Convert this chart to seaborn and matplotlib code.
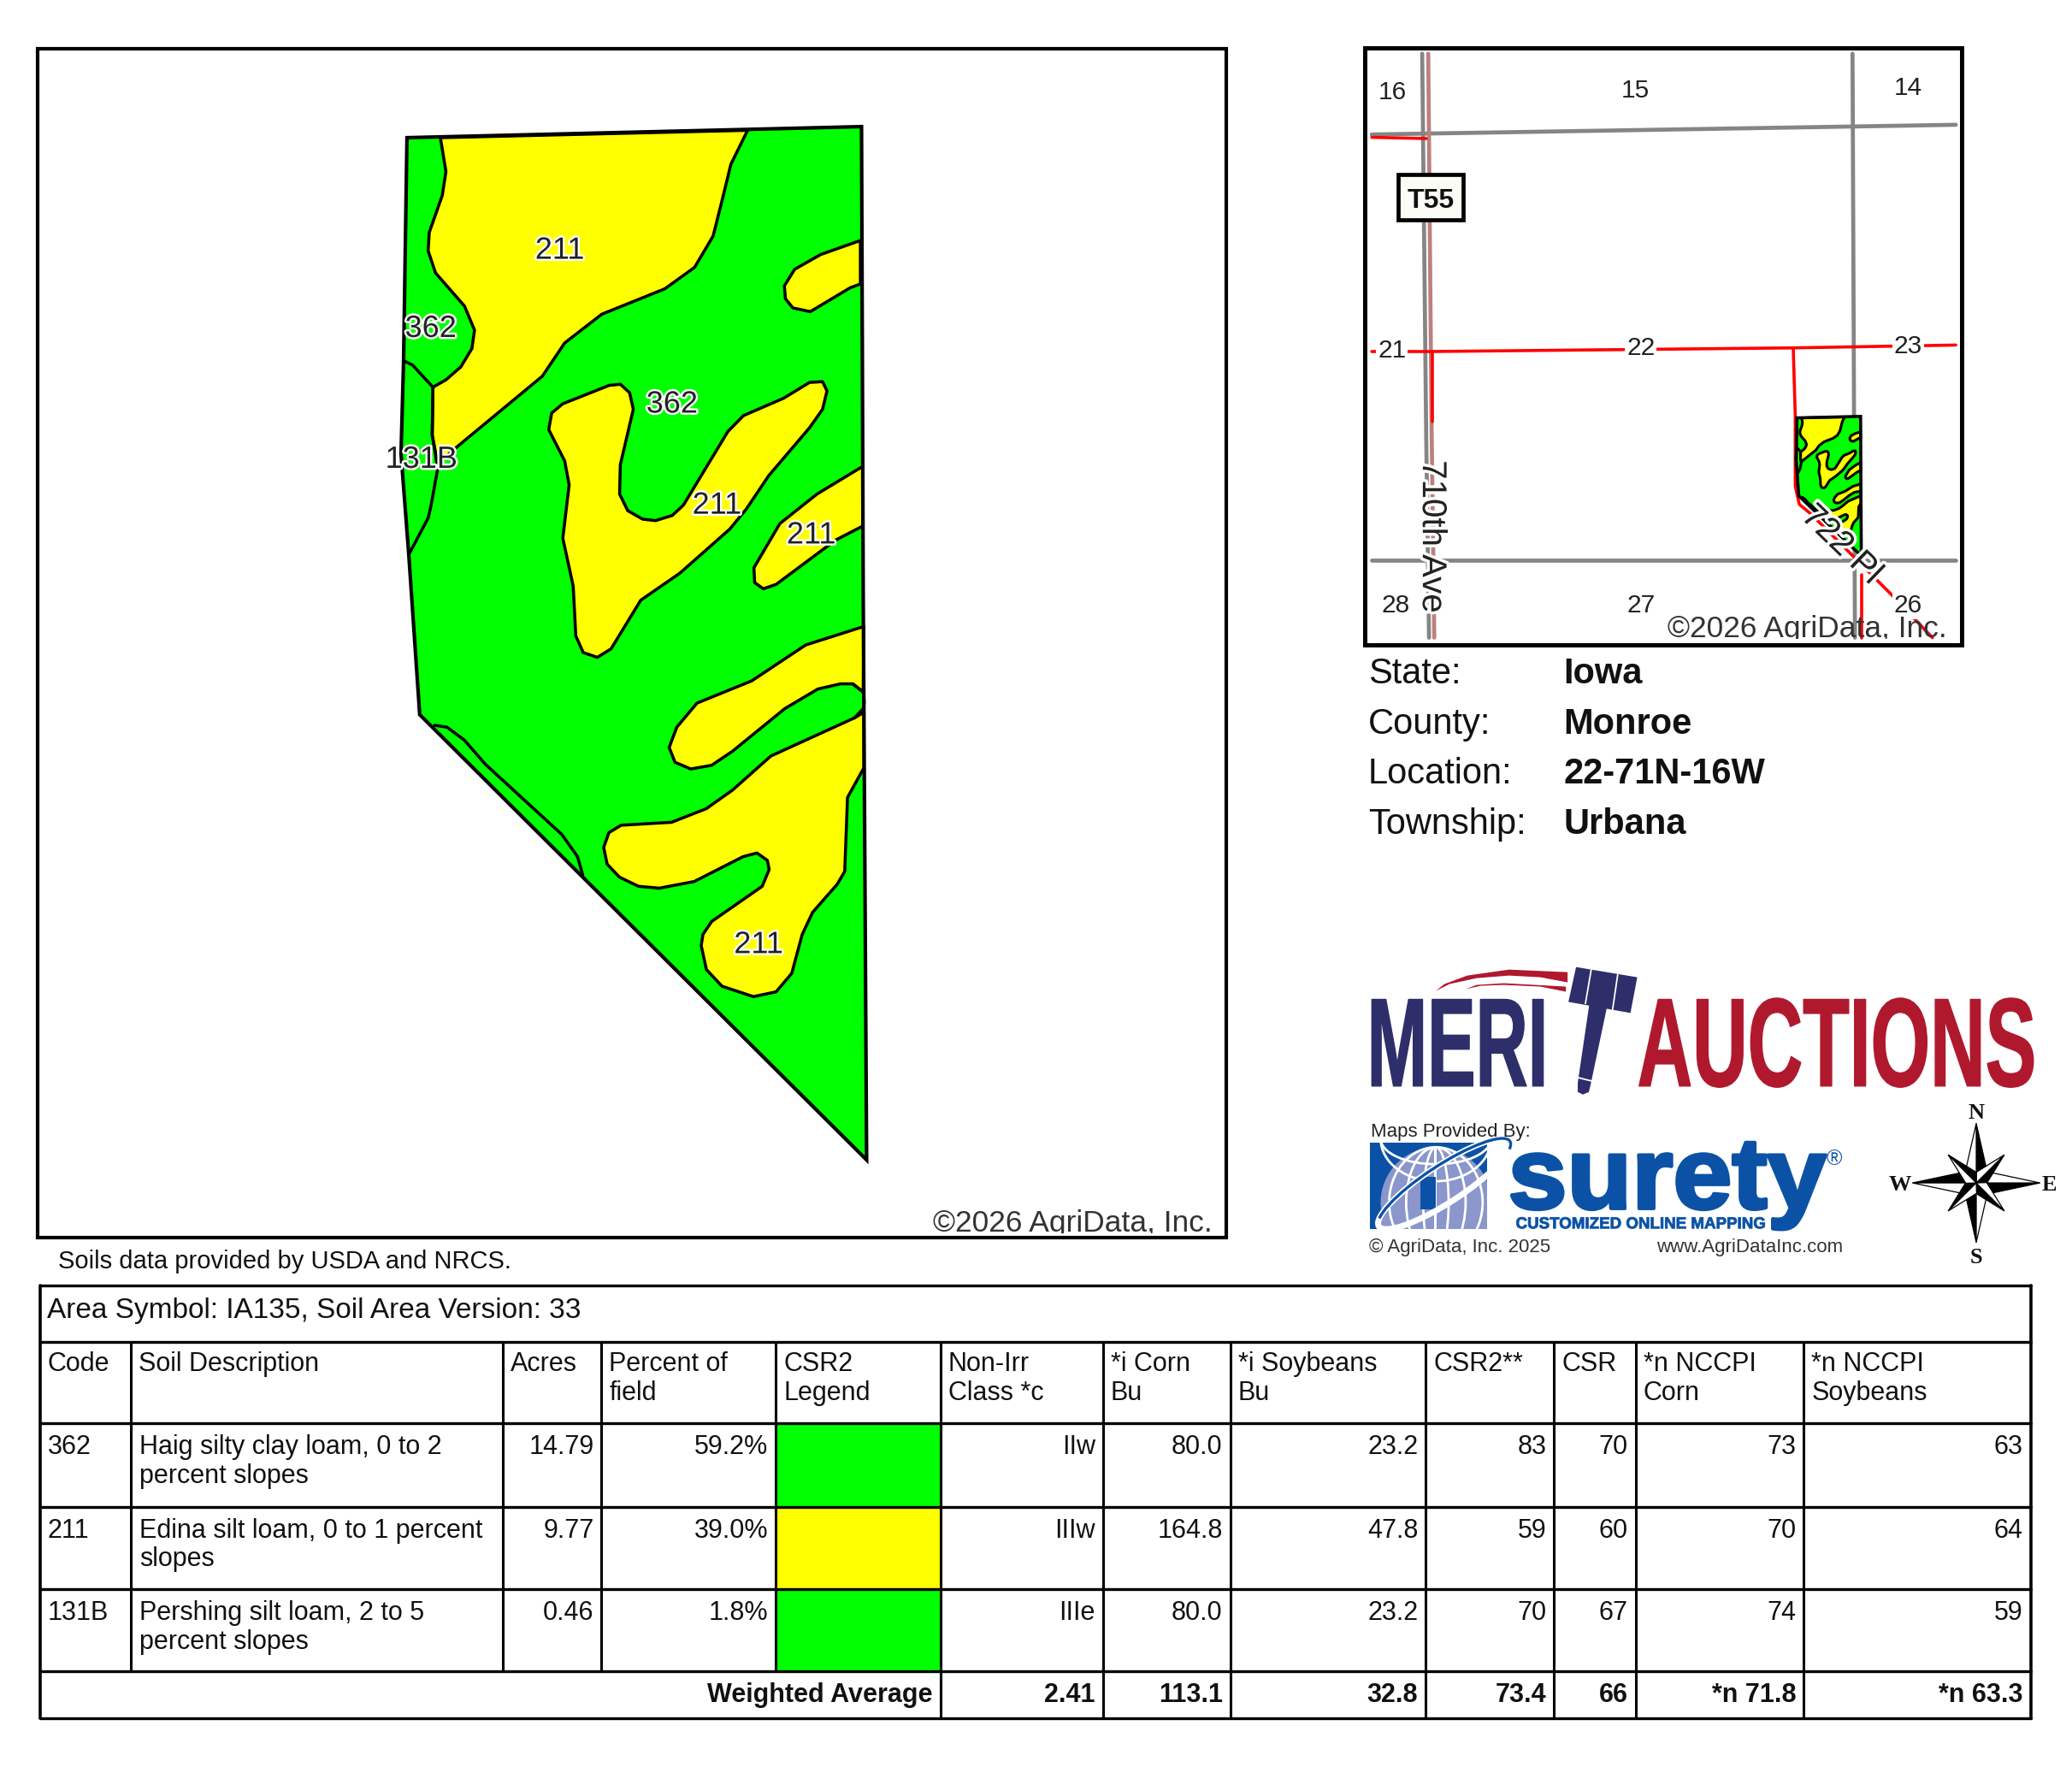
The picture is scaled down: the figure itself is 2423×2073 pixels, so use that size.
import matplotlib
matplotlib.use('Agg')
import matplotlib.pyplot as plt
import matplotlib.patheffects as pe
from matplotlib.patches import Rectangle, Polygon, Ellipse, Arc
from matplotlib.transforms import Affine2D
import seaborn as sns

sns.set_theme(style='white')
plt.rcParams['font.family'] = ['Liberation Sans', 'DejaVu Sans']

GREEN = '#00FF00'
YELLOW = '#FFFF00'
NAVY = '#2E2E6B'
CRIMSON = '#B0182D'
BLUE = '#0B52A6'
LILAC = '#8A96CC'

# soil map outlines in page units
field_x = [479, 1014, 1016, 1020, 494, 481, 472, 475]
field_y = [162, 149, 700, 1365, 841, 651, 534, 425]

# upper part of the map (crop 1 coordinates)
big_yellow = [(265,143),(1093,123),(1048,215),(1025,310),(1000,410),(950,495),(870,553),(700,622),(600,700),
              (540,790),(300,990),(258,1030),(243,950),(245,820),(280,800),(320,765),(350,715),(357,665),
              (330,600),(252,510),(232,450),(235,400),(270,300),(280,235)]
notch_yellow = [(1397,422),(1290,460),(1220,500),(1192,545),(1195,580),(1215,605),(1262,615),(1370,550),(1397,540)]
vee_yellow = [(595,865),(720,815),(750,812),(775,835),(785,880),(750,1030),(748,1110),(770,1155),(810,1178),
              (845,1182),(890,1168),(920,1140),(1040,940),(1082,897),(1190,850),(1260,807),(1295,805),(1307,830),
              (1295,880),(1260,930),(1150,1060),(1090,1150),(1045,1205),(910,1325),(805,1398),(725,1530),
              (688,1553),(650,1540),(630,1495),(623,1360),(595,1230),(612,1085),(600,1020),(557,935),(565,890)]
right_yellow = [(1403,1035),(1280,1110),(1180,1190),(1110,1310),(1112,1350),(1135,1367),(1170,1355),(1330,1235),(1403,1197)]
soil_131b = [(170,750),(190,760),(245,820),(243,950),(258,1040),(240,1140),(232,1175),(182,1270)]

# lower part of the map (crop 2 coordinates)
finger_yellow = [(1397,28),(1230,78),(1075,175),(918,235),(860,300),(838,355),(855,395),(900,413),(960,403),
                 (1020,365),(1170,250),(1265,197),(1330,183),(1365,183),(1395,205)]
lower_yellow = [(1397,260),(1370,275),(1130,378),(1020,470),(945,520),(845,557),(700,565),(665,585),(650,625),
                (660,670),(695,705),(750,730),(810,735),(910,717),(1050,650),(1090,640),(1120,660),(1125,685),
                (1105,730),(960,825),(935,860),(930,890),(945,955),(990,1000),(1080,1028),(1145,1015),(1190,965),
                (1220,860),(1250,800),(1320,725),(1342,690),(1350,490),(1397,410)]
sliver = [(165,295),(200,300),(250,335),(310,400),(530,590),(575,650),(590,700)]
pocket = [(1365,183),(1395,205),(1398,232),(1395,250),(1370,275)]

soil_labels = ['211', '362', '362', '131B', '211', '211', '211']
soil_label_x = [659, 507, 791, 496, 844, 955, 893]
soil_label_y = [295, 387, 476, 541, 595, 630, 1112]

# location map roads (crop 3 coordinates)
gray_roads = [[(155,50),(165,1000),(172,1495)], [(1222,50),(1228,1495)],
              [(30,250),(1478,226)], [(30,1303),(1478,1303)]]
rose_roads = [[(170,50),(178,950),(185,1495)]]
red_roads = [[(30,257),(165,260)], [(30,787),(178,787),(1075,778),(1478,771)], [(180,787),(180,960)],
             [(1075,778),(1080,945),(1080,1120),(1090,1165),(1120,1190)],
             [(1120,1190),(1230,1300),(1320,1390),(1420,1495)], [(1245,1340),(1245,1495)]]
section_labels = ['16', '15', '14', '21', '22', '23', '28', '27', '26']
section_x = [82, 683, 1360, 80, 697, 1360, 90, 697, 1360]
section_y = [146, 141, 136, 784, 779, 774, 1416, 1416, 1416]

info_keys = ['State:', 'County:', 'Location:', 'Township:']
info_values = ['Iowa', 'Monroe', '22-71N-16W', 'Urbana']

# table
column_edges = [47, 154, 592, 708, 913, 1107, 1298, 1448, 1678, 1829, 1925, 2123, 2390]
row_edges = [1513, 1579, 1675, 1773, 1870, 1967, 2022]
headers = ['Code', 'Soil Description', 'Acres', 'Percent of\nfield', 'CSR2\nLegend', 'Non-Irr\nClass *c',
           '*i Corn\nBu', '*i Soybeans\nBu', 'CSR2**', 'CSR', '*n NCCPI\nCorn', '*n NCCPI\nSoybeans']
codes = ['362', '211', '131B']
descriptions = ['Haig silty clay loam, 0 to 2\npercent slopes', 'Edina silt loam, 0 to 1 percent\nslopes',
                'Pershing silt loam, 2 to 5\npercent slopes']
acres = ['14.79', '9.77', '0.46']
percents = ['59.2%', '39.0%', '1.8%']
legend_colors = [GREEN, YELLOW, GREEN]
classes = ['IIw', 'IIIw', 'IIIe']
corn = ['80.0', '164.8', '80.0']
soybeans = ['23.2', '47.8', '23.2']
csr2 = ['83', '59', '70']
csr = ['70', '60', '67']
nccpi_corn = ['73', '70', '74']
nccpi_soy = ['63', '64', '59']
weighted = ['2.41', '113.1', '32.8', '73.4', '66', '*n 71.8', '*n 63.3']

# compass: tip offset, then colour of each half
compass_tips = [(0,-70,'black','white'), (75,0,'black','white'), (0,70,'black','white'), (-75,0,'black','white'),
                (33,-33,'black','white'), (33,33,'black','white'), (-33,33,'black','white'), (-33,-33,'black','white')]

# logo pieces
swoosh_top = [(1690,1166),(1700,1158),(1727,1148),(1776,1141),(1845,1144),(1845,1156),(1813,1150),(1776,1148),(1738,1151),(1706,1158)]
swoosh_low = [(1725,1164),(1738,1159),(1770,1157),(1843,1161),(1843,1167),(1813,1161),(1770,1159),(1743,1160)]
gavel_head = [(1855,1138),(1927,1150),(1919,1192),(1846,1179)]
gavel_grooves = [[(1873,1140),(1866,1181)], [(1904,1147),(1898,1188)]]
gavel_handle = [(1871,1179),(1892,1182),(1872,1277),(1870,1285),(1863,1288),(1857,1285),(1857,1274)]


class Squeeze(pe.AbstractPathEffect):
    # condensed / heavier lettering for the logos, still ordinary text
    def __init__(self, sx=1.0, lw=0):
        super().__init__()
        self.sx = sx
        self.lw = lw

    def draw_path(self, renderer, gc, tpath, affine, rgbFace=None):
        m = affine.get_matrix().copy()
        m[0, 0] *= self.sx
        gc0 = renderer.new_gc()
        gc0.copy_properties(gc)
        if self.lw:
            gc0.set_linewidth(self.lw)
            gc0.set_foreground(rgbFace)
        renderer.draw_path(gc0, tpath, Affine2D(m), rgbFace)
        gc0.restore()


def crop1(pts):
    return [(402.6 + 0.4367 * x, 100 + 0.4337 * y) for x, y in pts]


def crop2(pts):
    return [(444 + 0.41 * x, 725 + 0.4356 * y) for x, y in pts]


def crop3(pts):
    return [(1606 + (x - 12) * 0.4747, 56 + (y - 35) * 0.4756) for x, y in pts]


def mini(pts):
    return [(2115 + (x - 479) * 0.14, 490 + (y - 149) * 0.135) for x, y in pts]


def road(ax, pts, color, lw, zorder=2):
    sns.lineplot(x=[p[0] for p in pts], y=[p[1] for p in pts], color=color, linewidth=lw, sort=False,
                 estimator=None, legend=False, zorder=zorder, ax=ax)


fig = plt.figure(figsize=(24.23, 20.73), dpi=100)
ax = fig.add_axes([0, 0, 1, 1])
ax.set_xlim(0, 2438.7)
ax.set_ylim(2086.4, 0)
ax.set_autoscale_on(False)
ax.axis('off')

# main map frame
ax.add_patch(Rectangle((44, 57), 1399, 1399, fill=False, ec='black', lw=3, zorder=6))
field = list(zip(field_x, field_y))
yellows = [crop1(big_yellow), crop1(notch_yellow), crop1(vee_yellow), crop1(right_yellow),
           crop2(finger_yellow), crop2(lower_yellow)]
lines = [crop1(soil_131b), crop2(sliver), crop2(pocket)]


def draw_soils(tf, edge, zbase):
    ax.add_patch(Polygon(tf(field), fc=GREEN, ec='none', zorder=zbase))
    for poly in yellows:
        ax.add_patch(Polygon(tf(poly), fc=YELLOW, ec='black', lw=edge * 0.85, joinstyle='round', zorder=zbase + 0.1))
    for ln in lines:
        road(ax, tf(ln), 'black', edge * 0.85, zbase + 0.2)
    ax.add_patch(Polygon(tf(field), fill=False, ec='black', lw=edge, zorder=zbase + 0.3))


draw_soils(lambda p: p, 3, 3)
for s, x, y in zip(soil_labels, soil_label_x, soil_label_y):
    ax.text(x, y, s, fontsize=26, color='#222222', ha='center', va='center', zorder=5,
            path_effects=[pe.withStroke(linewidth=3.5, foreground='white')])

t = ax.text(1427, 1440, '©2026 AgriData, Inc.', fontsize=25.5, color='#333333', ha='right', va='center', zorder=5)
t.set_clip_on(True)
t.set_clip_path(Rectangle((44, 57), 1399, 1394, transform=ax.transData))
ax.text(68, 1485, 'Soils data provided by USDA and NRCS.', fontsize=21, color='#111111', va='center')

# location map
for rd in gray_roads:
    road(ax, crop3(rd), '#858585', 3.4)
for rd in rose_roads:
    road(ax, crop3(rd), '#BC8080', 3.4, 2.1)
for i, rd in enumerate(red_roads):
    road(ax, crop3(rd), '#FF0000', 2.6, 2.2)
draw_soils(mini, 2.6, 2.5)
for s, (x, y) in zip(section_labels, crop3(list(zip(section_x, section_y)))):
    ax.text(x, y, s, fontsize=21.5, color='#222222', ha='center', va='center', zorder=3,
            bbox=dict(fc='white', ec='none', pad=1.5))
(bx, by), (bx2, by2) = crop3([(95, 350), (257, 462)])
ax.add_patch(Rectangle((bx, by), bx2 - bx, by2 - by, fc='#FCFCF6', ec='black', lw=3.4, zorder=4))
ax.text((bx + bx2) / 2, (by + by2) / 2 + 4, 'T55', fontsize=23, fontweight='bold', color='#111111', ha='center', va='center', zorder=5)
halo = [pe.withStroke(linewidth=5, foreground='white')]
x, y = crop3([(180, 1245)])[0]
ax.text(x, y, '710th Ave', fontsize=29, rotation=-90, color='#222222', ha='center', va='center', zorder=4, path_effects=halo)
x, y = crop3([(1195, 1265)])[0]
ax.text(x, y, '722 Pl', fontsize=29, rotation=-44, color='#222222', ha='center', va='center', zorder=4,
        rotation_mode='anchor', path_effects=halo)
t = ax.text(2291, 740, '©2026 AgriData, Inc.', fontsize=25.5, color='#333333', ha='right', va='center', zorder=4)
t.set_clip_on(True)
t.set_clip_path(Rectangle((1606, 56), 703, 696, transform=ax.transData))
ax.add_patch(Rectangle((1606, 56), 703, 703, fill=False, ec='black', lw=3.6, zorder=6))

# state / county block
for i, (key, val) in enumerate(zip(info_keys, info_values)):
    yy = 793 + i * 59
    ax.text(1610, yy, key, fontsize=30, color='#111111', va='center')
    ax.text(1840, yy, val, fontsize=30, fontweight='bold', color='#111111', va='center')

# MERIT AUCTIONS logo
ax.text(1609, 1278, 'MERI', fontsize=106, fontweight='bold', color=NAVY, va='baseline', path_effects=[Squeeze(0.575, lw=1)])
ax.text(1927, 1278, 'AUCTIONS', fontsize=106, fontweight='bold', color=CRIMSON, va='baseline', path_effects=[Squeeze(0.607, lw=1)])
for poly, col in [(swoosh_top, CRIMSON), (swoosh_low, CRIMSON), (gavel_head, NAVY), (gavel_handle, NAVY)]:
    ax.add_patch(Polygon(poly, fc=col, ec='none', zorder=3))
for g in gavel_grooves:
    road(ax, g, 'white', 1.3, 3.1)
road(ax, [(1857, 1268), (1873, 1272)], 'white', 1.3, 3.1)

# surety logo
ax.text(1613, 1332, 'Maps Provided By:', fontsize=16, color='#222222', va='center')
square = Rectangle((1612, 1345), 138, 101, fc=BLUE, ec='none', zorder=2)
ax.add_patch(square)
clip = Rectangle((1612, 1345), 138, 101, transform=ax.transData)
globe_parts = [Ellipse((1690, 1415), 130, 130, fc=LILAC, ec='none', zorder=2.1),
               Rectangle((1625, 1415), 130, 32, fc=LILAC, ec='none', zorder=2.1)]
for w in [30, 70, 110]:
    globe_parts.append(Ellipse((1690, 1415), w, 130, fill=False, ec='white', lw=2, zorder=2.2))
globe_parts.append(Ellipse((1690, 1340), 130, 60, fill=False, ec='white', lw=2, zorder=2.2))
globe_parts.append(Ellipse((1690, 1340), 130, 100, fill=False, ec='white', lw=2, zorder=2.2))
globe_parts.append(Rectangle((1672, 1385), 18, 38, fc=BLUE, ec='none', zorder=2.3))
globe_parts.append(Rectangle((1688, 1350), 3, 100, fc='white', ec='none', zorder=2.25))
globe_parts.append(Ellipse((1700, 1393), 184, 44, angle=-33, fill=False, ec='white', lw=5, zorder=2.4))
for part in globe_parts:
    ax.add_patch(part)
    part.set_clip_path(clip)
ax.add_patch(Arc((1700, 1393), 184, 44, angle=-33, theta1=-175, theta2=5, ec=BLUE, lw=2.4, zorder=2.5))
ax.text(1775, 1422, 'surety', fontsize=85, fontweight='bold', color=BLUE, va='baseline', zorder=3,
        path_effects=[Squeeze(1.05, lw=3)])
ax.text(2159, 1364, '®', fontsize=18, color=BLUE, ha='center', va='center')
ax.text(1784, 1441, 'CUSTOMIZED ONLINE MAPPING', fontsize=13.5, fontweight='bold', color=BLUE, va='center',
        path_effects=[Squeeze(1.0, lw=0.6)])
ax.text(1611, 1468, '© AgriData, Inc. 2025', fontsize=16, color='#333333', va='center')
ax.text(1950, 1468, 'www.AgriDataInc.com', fontsize=16, color='#333333', va='center')

# compass
cx, cy = 2326, 1392
for tx, ty, c1, c2 in compass_tips:
    w = 13 if abs(tx) > 40 or abs(ty) > 40 else 9
    nx, ny = -ty, tx
    n = (nx ** 2 + ny ** 2) ** 0.5
    ox, oy = nx / n * w + tx * 0.18, ny / n * w + ty * 0.18
    ax.add_patch(Polygon([(cx, cy), (cx + tx, cy + ty), (cx + ox, cy + oy)], fc=c1, ec='black', lw=0.9, zorder=3))
    ox, oy = -nx / n * w + tx * 0.18, -ny / n * w + ty * 0.18
    ax.add_patch(Polygon([(cx, cy), (cx + tx, cy + ty), (cx + ox, cy + oy)], fc=c2, ec='black', lw=0.9, zorder=3))
for s, x, y in [('N', 2326, 1310), ('S', 2326, 1480), ('W', 2236, 1394), ('E', 2412, 1394)]:
    ax.text(x, y, s, fontsize=19, fontweight='bold', family='Liberation Serif', color='#111111', ha='center', va='center')

# table
TABLE_FS = 22
for i in range(3):
    ax.add_patch(Rectangle((column_edges[4], row_edges[2 + i]), column_edges[5] - column_edges[4],
                           row_edges[3 + i] - row_edges[2 + i], fc=legend_colors[i], ec='none', zorder=1))
for yy in row_edges:
    road(ax, [(column_edges[0], yy), (column_edges[-1], yy)], 'black', 2.4)
road(ax, [(column_edges[0], row_edges[0]), (column_edges[0], row_edges[-1])], 'black', 2.6)
road(ax, [(column_edges[-1], row_edges[0]), (column_edges[-1], row_edges[-1])], 'black', 2.6)
for xx in column_edges[1:-1]:
    bottom = row_edges[-1] if xx >= column_edges[5] else row_edges[-2]
    road(ax, [(xx, row_edges[1]), (xx, bottom)], 'black', 2.2)

ax.text(column_edges[0] + 8, 1542, 'Area Symbol: IA135, Soil Area Version: 33', fontsize=24, color='#111111', va='center')
for i, h in enumerate(headers):
    ax.text(column_edges[i] + 9, 1590, h, fontsize=TABLE_FS, color='#111111', va='top', linespacing=1.17)

right_columns = [(2, acres), (3, percents), (5, classes), (6, corn), (7, soybeans), (8, csr2), (9, csr),
                 (10, nccpi_corn), (11, nccpi_soy)]
for r in range(3):
    top = row_edges[2 + r] + 13
    ax.text(column_edges[0] + 9, top, codes[r], fontsize=TABLE_FS, color='#111111', va='top')
    ax.text(column_edges[1] + 10, top, descriptions[r], fontsize=TABLE_FS, color='#111111', va='top', linespacing=1.17)
    for col, vals in right_columns:
        ax.text(column_edges[col + 1] - 9, top, vals[r], fontsize=TABLE_FS, color='#111111', va='top', ha='right')

ymid = (row_edges[-2] + row_edges[-1]) / 2
ax.text(column_edges[5] - 9, ymid, 'Weighted Average', fontsize=TABLE_FS, fontweight='bold', color='#111111', ha='right', va='center')
for col, val in zip([6, 7, 8, 9, 10, 11, 12], weighted):
    ax.text(column_edges[col] - 9, ymid, val, fontsize=TABLE_FS, fontweight='bold', color='#111111', ha='right', va='center')

fig.savefig('out.png', dpi=100, facecolor='white')
